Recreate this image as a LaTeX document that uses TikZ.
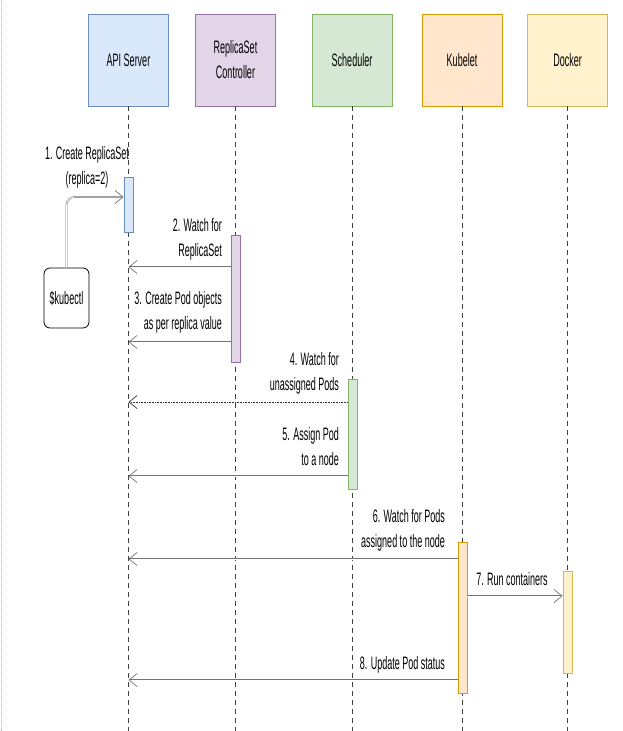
\documentclass[tikz,border=0pt]{standalone}
\usepackage{fontspec}
\newfontfamily\diafont[FakeStretch=0.5]{Liberation Sans}
\usetikzlibrary{arrows.meta,positioning}

\definecolor{apifill}{HTML}{DAE8FC}
\definecolor{apiline}{HTML}{6C8EBF}
\definecolor{rsfill}{HTML}{E1D5E7}
\definecolor{rsline}{HTML}{9673A6}
\definecolor{schedfill}{HTML}{D5E8D4}
\definecolor{schedline}{HTML}{82B366}
\definecolor{kubefill}{HTML}{FFE6CC}
\definecolor{kubeline}{HTML}{D79B00}
\definecolor{dockfill}{HTML}{FFF2CC}
\definecolor{dockline}{HTML}{D6B656}

\tikzset{
    diatext/.style={font=\diafont\fontsize{18}{25}\selectfont},
    head/.style={draw, line width=0.9pt, minimum width=80pt, minimum height=92pt,
        align=center, diatext},
    life/.style={draw=black!75, line width=0.6pt, dash pattern=on 5pt off 4pt},
    act/.style={draw, line width=0.9pt, minimum width=9pt, inner sep=0pt},
    msg/.style={draw=gray!90!black, line width=0.45pt, double=white, double distance=0.8pt,
        -{Straight Barb[length=8pt,width=13pt,line width=0.7pt]}},
    lbl/.style={diatext, align=right, inner sep=0pt, anchor=east}
}

\begin{document}
\begin{tikzpicture}[x=1pt, y=-1pt]
    \useasboundingbox (0,0) rectangle (622,731);
    \draw[gray!60, densely dotted, line width=1pt] (1.5,0) -- (1.5,731);

    % participants
    \node[head, fill=apifill, draw=apiline] (api) at (128.5,60) {API Server};
    \node[head, fill=rsfill, draw=rsline] (rs) at (235.5,60) {ReplicaSet\\Controller};
    \node[head, fill=schedfill, draw=schedline] (sched) at (352,60) {Scheduler};
    \node[head, fill=kubefill, draw=kubeline] (kubelet) at (462,60) {Kubelet};
    \node[head, fill=dockfill, draw=dockline] (docker) at (567.5,60) {Docker};

    \foreach \p in {api,rs,sched,kubelet,docker}
        \draw[life] (\p.south) -- (\p.south |- 0,731);

    % activations
    \node[act, fill=apifill, draw=apiline, minimum height=55pt] (apiact) at (128.5,204.5) {};
    \node[act, fill=rsfill, draw=rsline, minimum height=127pt] (rsact) at (236,298.5) {};
    \node[act, fill=schedfill, draw=schedline, minimum height=110pt] (schedact) at (352.5,434) {};
    \node[act, fill=kubefill, draw=kubeline, minimum height=151pt] (kubeact) at (462.5,617.5) {};
    \node[act, fill=dockfill, draw=dockline, minimum height=102pt] (dockact) at (567.5,622) {};

    \node[draw, line width=0.8pt, rounded corners=6pt, minimum width=45pt, minimum height=60pt,
        diatext] (kubectl) at (66.5,298) {\$kubectl};

    % messages
    \draw[msg, rounded corners=8pt] (kubectl.north) |- (apiact.west |- 0,197);
    \node[diatext, align=center, inner sep=0pt] (m1) at (87,167.5)
        {1. Create ReplicaSet\\(replica=2)};

    \draw[msg] (rsact.west |- 0,267) -- (api |- 0,267);
    \node[lbl] (m2) at (222,239.5) {2. Watch for\\ReplicaSet};

    \draw[msg] (rsact.west |- 0,342) -- (api |- 0,342);
    \node[lbl] (m3) at (222,312.5) {3. Create Pod objects\\as per replica value};

    \draw[msg, draw=black!80, double=none, line width=0.6pt, densely dotted]
        (schedact.west |- 0,402) -- (api |- 0,402);
    \node[lbl] (m4) at (339,373.5) {4. Watch for\\unassigned Pods};

    \draw[msg] (schedact.west |- 0,476) -- (api |- 0,476);
    \node[lbl] (m5) at (339,446.5) {5. Assign Pod\\to a node};

    \draw[msg] (kubeact.west |- 0,559) -- (api |- 0,559);
    \node[lbl] (m6) at (445,530.5) {6. Watch for Pods\\assigned to the node};

    \draw[msg] (kubeact.east |- 0,596) -- (dockact.west |- 0,596);
    \node[diatext, inner sep=0pt] (m7) at (512,579) {7. Run containers};

    \draw[msg] (kubeact.west |- 0,680) -- (api |- 0,680);
    \node[lbl] (m8) at (445,665) {8. Update Pod status};
\end{tikzpicture}
\end{document}
